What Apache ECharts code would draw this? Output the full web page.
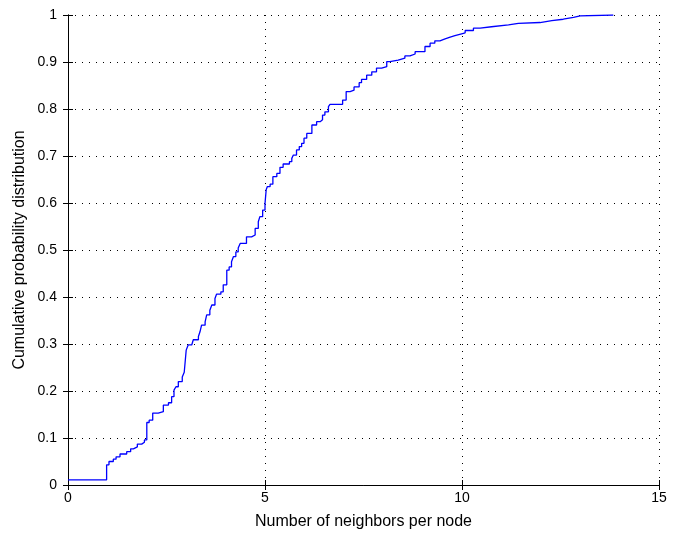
<!DOCTYPE html>
<html>
<head>
<meta charset="utf-8">
<script src="https://cdn.jsdelivr.net/npm/echarts@6/dist/echarts.min.js"></script>
<style>html,body{margin:0;padding:0;background:#fff}#c{width:678px;height:536px}</style>
</head>
<body>
<div id="c"></div>
<script>
// Step points of the empirical CDF: x = number of neighbors, y = cumulative probability after the step
const xSteps = [0, 0.98, 1.04, 1.15, 1.22, 1.32, 1.49, 1.59, 1.66, 1.76, 1.87, 1.94, 2.0, 2.06, 2.15, 2.29, 2.42, 2.55, 2.63, 2.69, 2.74, 2.8, 2.9, 2.95, 3.0, 3.05, 3.14, 3.18, 3.31, 3.35, 3.39, 3.48, 3.52, 3.6, 3.65, 3.73, 3.77, 3.88, 3.94, 4.03, 4.09, 4.15, 4.2, 4.26, 4.32, 4.37, 4.53, 4.66, 4.75, 4.83, 4.87, 4.94, 5.0, 5.03, 5.06, 5.13, 5.2, 5.3, 5.38, 5.46, 5.62, 5.68, 5.72, 5.8, 5.87, 5.93, 5.99, 6.06, 6.19, 6.31, 6.4, 6.46, 6.52, 6.61, 6.65, 6.97, 7.06, 7.16, 7.26, 7.39, 7.45, 7.58, 7.71, 7.83, 7.96, 8.09, 8.17, 8.38, 8.55, 8.68, 8.81, 9.06, 9.19, 9.31, 9.44, 9.57, 9.7, 9.82, 9.99, 10.08, 10.29, 10.46, 10.75, 11.18, 11.43, 11.98, 12.28, 12.57, 12.83, 13.0, 13.84];
const yCdf   = [0.011, 0.043, 0.050, 0.055, 0.060, 0.066, 0.071, 0.077, 0.081, 0.087, 0.091, 0.096, 0.133, 0.138, 0.153, 0.156, 0.170, 0.175, 0.188, 0.202, 0.209, 0.220, 0.230, 0.240, 0.287, 0.298, 0.301, 0.309, 0.316, 0.326, 0.340, 0.347, 0.362, 0.372, 0.383, 0.397, 0.406, 0.411, 0.426, 0.457, 0.464, 0.475, 0.486, 0.496, 0.504, 0.514, 0.528, 0.532, 0.546, 0.560, 0.571, 0.585, 0.599, 0.628, 0.635, 0.640, 0.656, 0.663, 0.676, 0.683, 0.688, 0.695, 0.702, 0.713, 0.720, 0.727, 0.738, 0.748, 0.766, 0.773, 0.777, 0.787, 0.794, 0.805, 0.810, 0.819, 0.837, 0.840, 0.847, 0.856, 0.863, 0.872, 0.879, 0.887, 0.890, 0.901, 0.904, 0.908, 0.913, 0.917, 0.922, 0.933, 0.940, 0.945, 0.949, 0.953, 0.956, 0.960, 0.962, 0.967, 0.972, 0.975, 0.979, 0.982, 0.984, 0.988, 0.991, 0.995, 0.998, 1.0, 1.0];
const xTicks = [0, 5, 10, 15];
const yTicks = [0, 0.1, 0.2, 0.3, 0.4, 0.5, 0.6, 0.7, 0.8, 0.9, 1];
const xLabel = 'Number of neighbors per node';
const yLabel = 'Cumulative probability distribution';

const data = xSteps.map((x, i) => [x, yCdf[i]]);
const font = 'Liberation Sans';
const grid = { left: 68, right: 19, top: 15, bottom: 51 };
const gridLine = { show: true, lineStyle: { color: '#000', type: [1, 6], width: 1 } };
const axisLine = { show: true, lineStyle: { color: '#000', width: 1 } };
const tick = { show: true, inside: true, length: 5, lineStyle: { color: '#000' } };

const chart = echarts.init(document.getElementById('c'), null, { renderer: 'canvas' });
chart.setOption({
  animation: false,
  backgroundColor: '#fff',
  grid: grid,
  xAxis: [
    { type: 'value', min: xTicks[0], max: xTicks[xTicks.length - 1], interval: 5, position: 'bottom',
      axisLine: axisLine, axisTick: tick, splitLine: gridLine,
      axisLabel: { color: '#000', fontFamily: font, fontSize: 14, margin: 6 },
      name: xLabel, nameLocation: 'middle', nameGap: 29,
      nameTextStyle: { color: '#000', fontFamily: font, fontSize: 16 } },
    { type: 'value', min: xTicks[0], max: xTicks[xTicks.length - 1], interval: 5, position: 'top',
      axisLine: axisLine, axisTick: tick, splitLine: { show: false }, axisLabel: { show: false } }
  ],
  yAxis: [
    { type: 'value', min: yTicks[0], max: yTicks[yTicks.length - 1], interval: 0.1, position: 'left',
      axisLine: axisLine, axisTick: tick, splitLine: gridLine,
      axisLabel: { color: '#000', fontFamily: font, fontSize: 14, margin: 11,
        formatter: v => String(Math.round(v * 10) / 10) },
      name: yLabel, nameLocation: 'middle', nameGap: 40, nameRotate: 90, nameMoveOverlap: false,
      nameTextStyle: { color: '#000', fontFamily: font, fontSize: 16 } },
    { type: 'value', min: yTicks[0], max: yTicks[yTicks.length - 1], interval: 0.1, position: 'right',
      axisLine: axisLine, axisTick: tick, splitLine: { show: false }, axisLabel: { show: false } }
  ],
  series: [{
    type: 'line', step: 'end', data: data, showSymbol: false, symbol: 'none',
    lineStyle: { color: '#0000ff', width: 1.3 }, clip: true
  }]
});
</script>
</body>
</html>
